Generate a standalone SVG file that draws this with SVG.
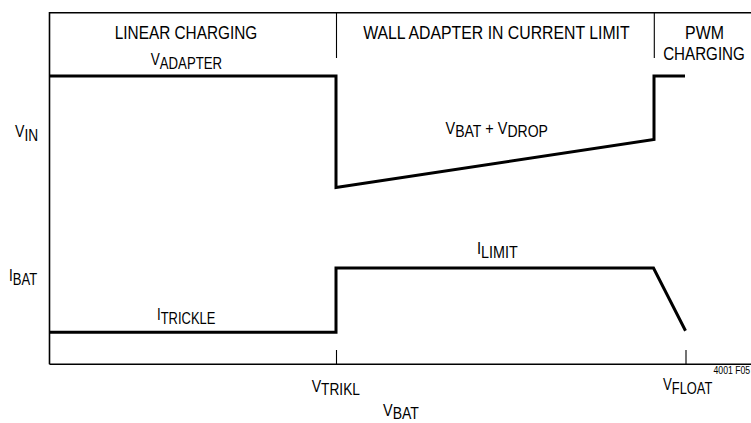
<svg xmlns="http://www.w3.org/2000/svg" width="751" height="423" viewBox="0 0 751 423">
<style>
.frame{fill:none;stroke:#000;stroke-width:1.6}
.tick{fill:none;stroke:#000;stroke-width:1.1}
.trace{fill:none;stroke:#000;stroke-width:3;stroke-linejoin:miter}
text{font-family:"Liberation Sans",Arial,sans-serif;fill:#000}
.title{font-size:18.5px;text-anchor:middle}
.lbl{font-size:17px}
.sub{font-size:16.5px}
.note{font-size:11px}
</style>
<rect width="751" height="423" fill="#fff"/>
<g id="axes">
<path class="frame" d="M49.5,364.3 V12.8 H751 M49.5,364.3 H751"/>
<path class="tick" d="M336.5,12.8 V58 M654.3,12.8 V58 M336.5,350 V364 M686,350 V364"/>
</g>
<g id="connectors">
<path id="vin-trace" class="trace" d="M50,76 H336 V187.5 L654,139.5 V76 H685"/>
<path id="ibat-trace" class="trace" d="M50,332.3 H336 V268 H653.5 L685.5,330.7"/>
</g>
<g id="titles">
<text class="title" transform="translate(186,39.3) scale(0.83,1)">LINEAR CHARGING</text>
<text class="title" transform="translate(496.4,39.3) scale(0.855,1)">WALL ADAPTER IN CURRENT LIMIT</text>
<text class="title" transform="translate(704.5,39.3) scale(0.86,1)">PWM</text>
<text class="title" transform="translate(704,60) scale(0.82,1)">CHARGING</text>
</g>
<g id="labels">
<text class="lbl" transform="translate(150.7,65) scale(0.8,1)">V<tspan class="sub" dy="4.3">ADAPTER</tspan></text>
<text class="lbl" transform="translate(15,137) scale(0.83,1)">V<tspan class="sub" dy="3.5">IN</tspan></text>
<text class="lbl" transform="translate(445.5,133.5) scale(0.85,1)">V<tspan class="sub" dy="3.5">BAT</tspan><tspan dy="-3.5"> + V</tspan><tspan class="sub" dy="3.5">DROP</tspan></text>
<text class="lbl" transform="translate(9,281) scale(0.79,1)">I<tspan class="sub" dy="4">BAT</tspan></text>
<text class="lbl" transform="translate(157,320) scale(0.785,1)">I<tspan class="sub" dy="4">TRICKLE</tspan></text>
<text class="lbl" transform="translate(477,254) scale(0.87,1)">I<tspan class="sub" dy="3.5">LIMIT</tspan></text>
<text class="lbl" transform="translate(311.7,391.5) scale(0.83,1)">V<tspan class="sub" dy="3.5">TRIKL</tspan></text>
<text class="lbl" transform="translate(383,416) scale(0.85,1)">V<tspan class="sub" dy="3">BAT</tspan></text>
<text class="lbl" transform="translate(663,390) scale(0.78,1)">V<tspan class="sub" dy="3.5">FLOAT</tspan></text>
<text class="note" transform="translate(713.5,373.5) scale(0.79,1)">4001 F05</text>
</g>
</svg>
